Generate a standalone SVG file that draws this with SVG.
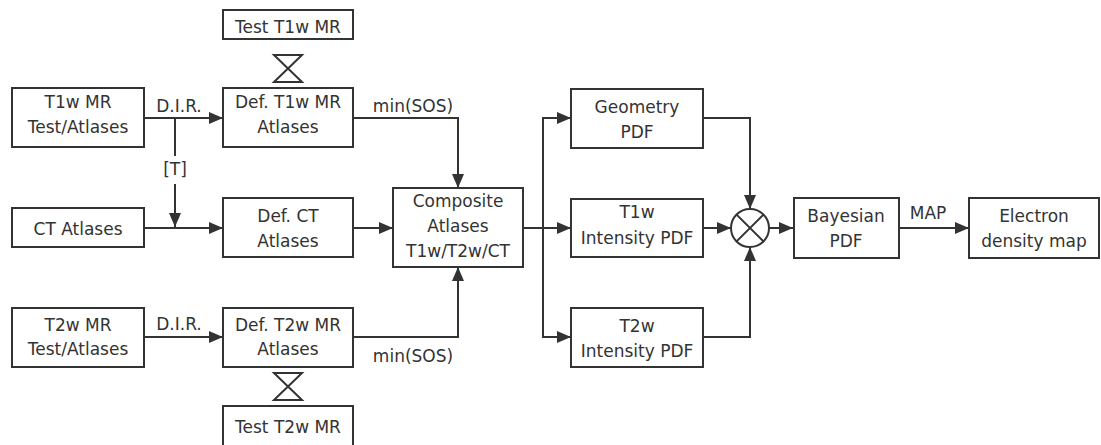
<svg xmlns="http://www.w3.org/2000/svg" width="1101" height="445" viewBox="0 0 1101 445">
<style>
.box{fill:#fff;stroke:#333;stroke-width:2}
.ln{fill:none;stroke:#333;stroke-width:2}
.arr{fill:none;stroke:#333;stroke-width:2;marker-end:url(#ah)}
text{font-family:"DejaVu Sans","Liberation Sans",sans-serif;font-size:17px;fill:#333;text-anchor:middle}
</style>
<defs>
<marker id="ah" markerUnits="userSpaceOnUse" markerWidth="14" markerHeight="12" refX="14" refY="6" orient="auto">
<path d="M0,0 L14,6 L0,12 Z" fill="#333"/>
</marker>
</defs>
<rect width="1101" height="445" fill="#fff"/>
<g id="connectors">
<path class="arr" d="M144,118 H223"/>
<path class="ln" d="M175,118 V156"/>
<path class="arr" d="M175,184 V227"/>
<path class="arr" d="M144,228 H223"/>
<path class="arr" d="M144,337 H223"/>
<path class="arr" d="M353,118 H458 V188"/>
<path class="arr" d="M353,228 H393"/>
<path class="arr" d="M353,337 H458 V267"/>
<path class="arr" d="M523,228 H571"/>
<path class="arr" d="M543,228 V118 H571"/>
<path class="arr" d="M543,228 V337 H571"/>
<path class="arr" d="M703,118 H750 V209"/>
<path class="arr" d="M703,228 H731"/>
<path class="arr" d="M703,337 H750 V247"/>
<path class="arr" d="M769,228 H793"/>
<path class="arr" d="M899,228 H969"/>
<path class="ln" d="M274,55 H302 L274,82 H302 Z"/>
<path class="ln" d="M274,373 H302 L274,400 H302 Z"/>
<text x="179" y="112">D.I.R.</text>
<text x="175" y="175">[T]</text>
<text x="179" y="330">D.I.R.</text>
<text x="413" y="112">min(SOS)</text>
<text x="413" y="362">min(SOS)</text>
<text x="928" y="219">MAP</text>
</g>
<g id="test-t1w">
<rect class="box" x="223" y="10" width="130" height="29"/>
<text x="288" y="33">Test T1w MR</text>
</g>
<g id="t1w-mr">
<rect class="box" x="12" y="88" width="132" height="59"/>
<text x="78" y="108">T1w MR</text>
<text x="78" y="133">Test/Atlases</text>
</g>
<g id="def-t1w">
<rect class="box" x="223" y="88" width="130" height="59"/>
<text x="288" y="108">Def. T1w MR</text>
<text x="288" y="133">Atlases</text>
</g>
<g id="ct-atlases">
<rect class="box" x="12" y="208" width="132" height="39"/>
<text x="78" y="235">CT Atlases</text>
</g>
<g id="def-ct">
<rect class="box" x="223" y="198" width="130" height="59"/>
<text x="288" y="222">Def. CT</text>
<text x="288" y="247">Atlases</text>
</g>
<g id="t2w-mr">
<rect class="box" x="12" y="308" width="132" height="59"/>
<text x="78" y="331">T2w MR</text>
<text x="78" y="355">Test/Atlases</text>
</g>
<g id="def-t2w">
<rect class="box" x="223" y="308" width="130" height="59"/>
<text x="288" y="331">Def. T2w MR</text>
<text x="288" y="355">Atlases</text>
</g>
<g id="test-t2w">
<rect class="box" x="223" y="406" width="130" height="42"/>
<text x="288" y="433">Test T2w MR</text>
</g>
<g id="composite">
<rect class="box" x="393" y="188" width="130" height="79"/>
<text x="458" y="207">Composite</text>
<text x="458" y="232">Atlases</text>
<text x="458" y="257">T1w/T2w/CT</text>
</g>
<g id="geometry">
<rect class="box" x="571" y="89" width="132" height="59"/>
<text x="637" y="113">Geometry</text>
<text x="637" y="138">PDF</text>
</g>
<g id="t1w-int">
<rect class="box" x="571" y="199" width="132" height="58"/>
<text x="637" y="218">T1w</text>
<text x="637" y="244">Intensity PDF</text>
</g>
<g id="t2w-int">
<rect class="box" x="571" y="308" width="132" height="59"/>
<text x="637" y="332">T2w</text>
<text x="637" y="357">Intensity PDF</text>
</g>
<g id="product">
<circle class="box" cx="750" cy="228" r="19"/>
<path class="ln" d="M736.6,214.6 L763.4,241.4 M763.4,214.6 L736.6,241.4"/>
</g>
<g id="bayesian">
<rect class="box" x="794" y="198" width="105" height="60"/>
<text x="846" y="222">Bayesian</text>
<text x="846" y="247">PDF</text>
</g>
<g id="electron">
<rect class="box" x="969" y="198" width="130" height="60"/>
<text x="1034" y="222">Electron</text>
<text x="1034" y="247">density map</text>
</g>
</svg>
